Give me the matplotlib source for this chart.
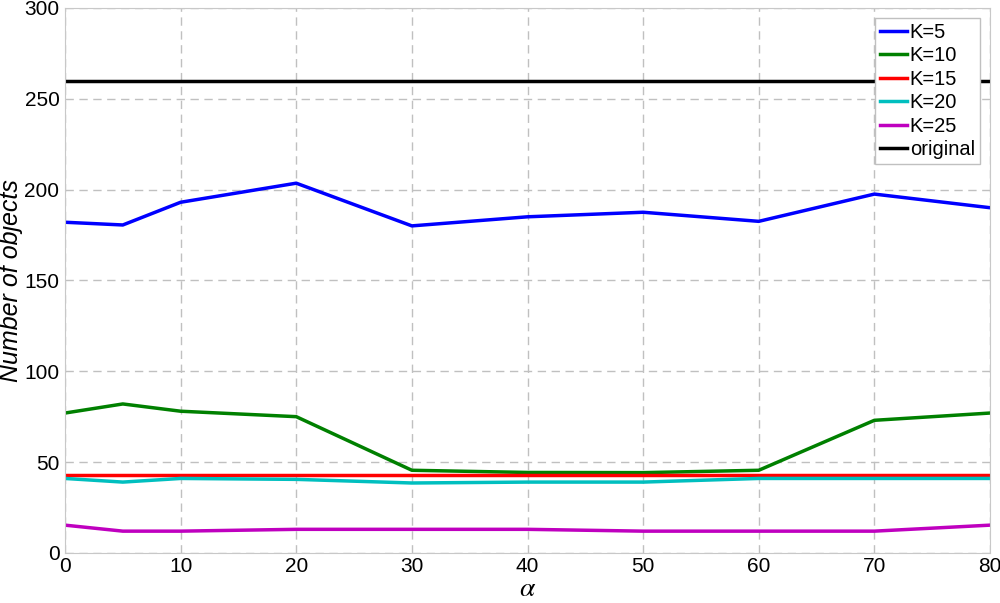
import matplotlib
matplotlib.use('Agg')
import matplotlib.pyplot as plt

plt.rcParams['font.family'] = ['Liberation Sans', 'DejaVu Sans']
plt.rcParams['mathtext.fontset'] = 'stix'

alpha = [0, 5, 10, 20, 30, 40, 50, 60, 70, 80]
k5 = [182, 180.5, 193, 203.5, 180, 185, 187.5, 182.5, 197.5, 190]
k10 = [77, 82, 78, 75, 45.5, 44.3, 44.2, 45.5, 73, 77]
k15 = [43, 43, 43, 43, 43, 43, 43, 43, 43, 43]
k20 = [41, 39, 41, 40.5, 38.5, 39, 39, 41, 41, 41]
k25 = [15.3, 12, 12, 13, 13, 13, 12, 12, 12, 15.3]
original = [260] * len(alpha)

series = [
    (k5, 'K=5', '#0000ff'),
    (k10, 'K=10', '#008000'),
    (k15, 'K=15', '#ff0000'),
    (k20, 'K=20', '#00bfbf'),
    (k25, 'K=25', '#bf00bf'),
    (original, 'original', '#000000'),
]

fig = plt.figure(figsize=(10, 6.03), dpi=100)
ax = fig.add_axes([0.065, 0.083, 0.925, 0.904])

for vals, label, color in series:
    ax.plot(alpha, vals, color=color, lw=2.5, label=label)

ax.set_xlim(0, 80)
ax.set_ylim(0, 300)
ax.set_xticks(range(0, 81, 10))
ax.set_yticks(range(0, 301, 50))
ax.grid(True, color='#c0c0c0', linestyle=(0, (6, 4)), lw=1)
ax.tick_params(length=0, labelsize=15)
ax.tick_params(axis='x', pad=3)
ax.tick_params(axis='y', pad=4)
for s in ax.spines.values():
    s.set_color('#c8c8c8')

ax.set_xlabel(r'$\alpha$', fontsize=20, labelpad=0)
ax.set_ylabel('Number of objects', fontsize=18, style='italic', labelpad=1)

leg = ax.legend(loc='upper right', fontsize=14.5, fancybox=False, framealpha=1,
                edgecolor='#c0c0c0', handlelength=1.35, handletextpad=0.15,
                borderpad=0.25, labelspacing=0.22, borderaxespad=0.5)
leg.get_frame().set_linewidth(1)

fig.savefig('out.png', dpi=100)
